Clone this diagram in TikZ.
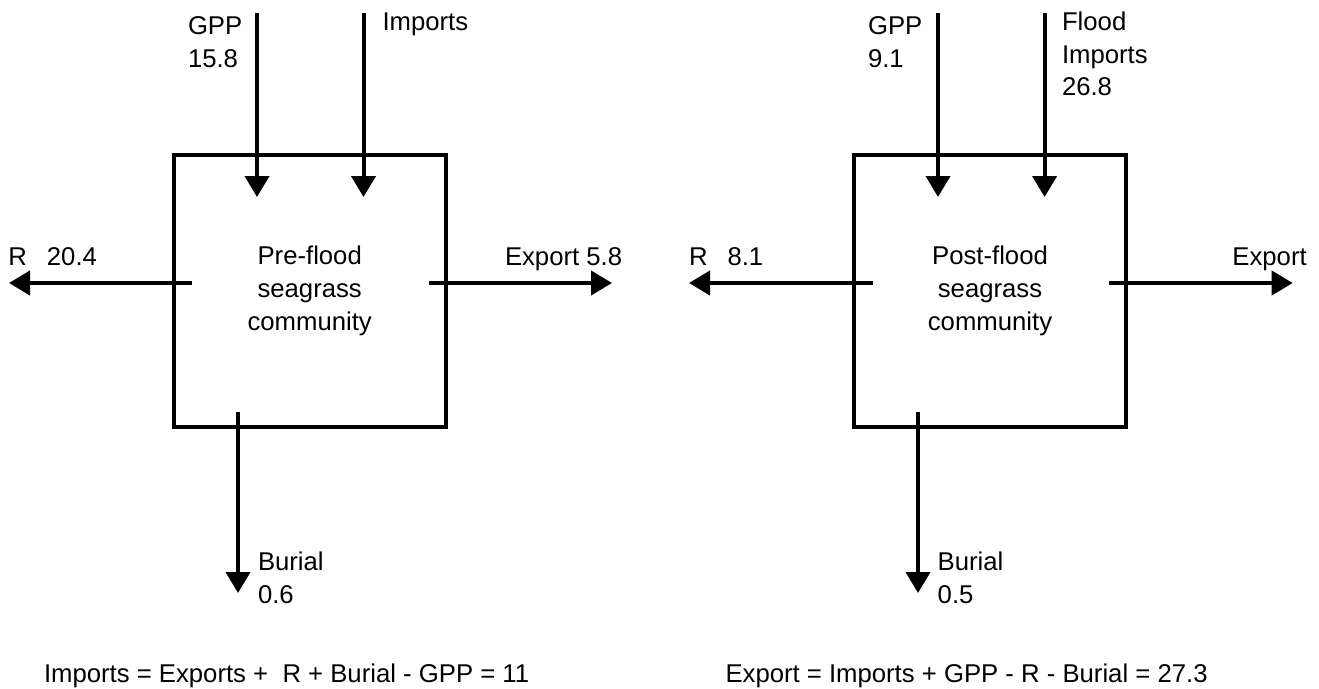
\documentclass[tikz,border=0pt]{standalone}
\usepackage{fontspec}
\setmainfont{Liberation Sans}
\usetikzlibrary{arrows.meta}
\begin{document}
\begin{tikzpicture}[x=1pt,y=-1pt,
  every node/.style={font=\fontsize{25.7}{32.8}\selectfont, inner sep=0pt, outer sep=0pt},
  commbox/.style={draw, line width=4pt, rectangle, minimum width=272pt, minimum height=272pt, align=center},
  flow/.style={line width=4pt, -{Triangle[length=21pt,width=24pt]}},
  lbl/.style={anchor=north west, align=left},
  lbl1/.style={anchor=base west}
]
\useasboundingbox (0,0) rectangle (1319,688);

% ---------- left panel ----------
\node[commbox] (Lbox) at (309.7,291) {Pre-flood\\seagrass\\community};
\coordinate (LgppS) at (257,13);   \coordinate (LgppE) at (257,197);
\coordinate (LimpS) at (363.5,13); \coordinate (LimpE) at (363.5,197);
\coordinate (LrS) at (192,283);    \coordinate (LrE) at (9,283);
\coordinate (LexS) at (429,283);   \coordinate (LexE) at (612,283);
\coordinate (LbuS) at (238,412);   \coordinate (LbuE) at (238,593);
\draw[flow] (LgppS) -- (LgppE);
\draw[flow] (LimpS) -- (LimpE);
\draw[flow] (LrS) -- (LrE);
\draw[flow] (LexS) -- (LexE);
\draw[flow] (LbuS) -- (LbuE);

\node[lbl] (Lgpp) at (188,16.6) {GPP\\15.8};
\node[lbl1] (Limp) at (382.5,30) {Imports};
\node[lbl1] (Lr) at (8.5,265) {R\hspace{19.9pt}20.4};
\node[lbl1] (Lex) at (505,265) {Export 5.8};
\node[lbl] (Lbu) at (258,551.6) {Burial\\0.6};
\node[lbl1] (Leq) at (44,682) {Imports = Exports +\ \ R + Burial - GPP = 11};

% ---------- right panel ----------
\node[commbox] (Rbox) at (990,291) {Post-flood\\seagrass\\community};
\coordinate (RgppS) at (938,13);    \coordinate (RgppE) at (938,197);
\coordinate (RimpS) at (1044.6,13); \coordinate (RimpE) at (1044.6,197);
\coordinate (RrS) at (872.6,283);   \coordinate (RrE) at (689,283);
\coordinate (RexS) at (1109,283);   \coordinate (RexE) at (1292.7,283);
\coordinate (RbuS) at (918,412);    \coordinate (RbuE) at (918,593);
\draw[flow] (RgppS) -- (RgppE);
\draw[flow] (RimpS) -- (RimpE);
\draw[flow] (RrS) -- (RrE);
\draw[flow] (RexS) -- (RexE);
\draw[flow] (RbuS) -- (RbuE);

\node[lbl] (Rgpp) at (868,16.6) {GPP\\9.1};
\node[lbl] (Rimp) at (1062,11.6) {Flood\\Imports\\26.8};
\node[lbl1] (Rr) at (689,265) {R\hspace{20pt}8.1};
\node[anchor=base east] (Rex) at (1306.7,265) {Export};
\node[lbl] (Rbu) at (937.7,551.6) {Burial\\0.5};
\node[lbl1] (Req) at (725.5,682) {Export = Imports + GPP - R - Burial = 27.3};
\end{tikzpicture}
\end{document}
